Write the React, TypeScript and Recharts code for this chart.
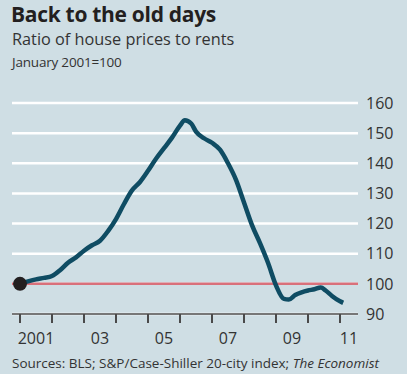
import React from "react";
import { LineChart, Line, XAxis, YAxis, CartesianGrid, ReferenceLine, ReferenceDot } from "recharts";

const years = [2001, 2001.25, 2001.5, 2001.75, 2002, 2002.25, 2002.5, 2002.75, 2003, 2003.25, 2003.5, 2003.75, 2004, 2004.25, 2004.5, 2004.75, 2005, 2005.25, 2005.5, 2005.75, 2006, 2006.15, 2006.35, 2006.5, 2006.75, 2007, 2007.25, 2007.5, 2007.75, 2008, 2008.25, 2008.5, 2008.75, 2009, 2009.25, 2009.4, 2009.6, 2009.8, 2010, 2010.2, 2010.4, 2010.55, 2010.75, 2011, 2011.1];
const ratio = [100, 100.8, 101.5, 102, 102.6, 104.5, 107, 108.8, 111, 112.8, 114.3, 117.5, 121.5, 126.5, 131, 133.8, 137.5, 141.5, 145, 148.5, 152.5, 154.3, 153.2, 150.5, 148.3, 146.8, 144.5, 140, 134.5, 127, 119.5, 113.5, 107, 99.5, 95, 94.8, 96.3, 97.2, 97.8, 98.2, 98.8, 97.8, 96, 94.2, 93.7];
const xTicks = [2001, 2002, 2003, 2004, 2005, 2006, 2007, 2008, 2009, 2010, 2011];
const xLabels: Record<number, string> = { 2001: "2001", 2003: "03", 2005: "05", 2007: "07", 2009: "09", 2011: "11" };
const yTicks = [90, 100, 110, 120, 130, 140, 150, 160];

const data = years.map((y, i) => ({ year: y, value: ratio[i] }));

const font = "'Open Sans', 'DejaVu Sans', sans-serif";
const BG = "#cfdee4";

function XTick(props: any) {
  const { x, y, payload } = props;
  const label = xLabels[payload.value] ?? "";
  const shift = payload.value === 2011 ? 9 : 16;
  return (
    <g>
      <line x1={x} x2={x} y1={y} y2={y + 9} stroke="#4a4a4a" strokeWidth={2} />
      <text x={x + shift} y={y + 19} dy="0.71em" textAnchor="middle" fill="#333" fontSize={16} fontFamily={font}>
        {label}
      </text>
    </g>
  );
}

export default function App() {
  return (
    <div style={{ position: "absolute", left: 0, top: 0, width: 407, height: 374, background: BG, fontFamily: font, color: "#231f20", overflow: "hidden" }}>
      <div style={{ position: "absolute", left: 11, top: 0, fontSize: 21, fontWeight: 700, lineHeight: "28px", letterSpacing: -0.3 }}>Back to the old days</div>
      <div style={{ position: "absolute", left: 12, top: 28, fontSize: 16.3, lineHeight: "22px", color: "#333" }}>Ratio of house prices to rents</div>
      <div style={{ position: "absolute", left: 12, top: 53, fontSize: 13.5, lineHeight: "18px", color: "#333", letterSpacing: -0.2 }}>January 2001=100</div>
      <div style={{ position: "absolute", left: 12, top: 354, fontSize: 13.5, lineHeight: "18px", color: "#333", whiteSpace: "nowrap" }}>
        Sources: BLS; S&amp;P/Case-Shiller 20-city index; <i>The Economist</i>
      </div>
      <div style={{ position: "absolute", left: 0, top: 0 }}>
        <LineChart width={407} height={374} data={data} margin={{ top: 103, right: 0, bottom: 30, left: 12 }}>
          <CartesianGrid horizontal vertical={false} stroke="#ffffff" strokeWidth={2.5} />
          <XAxis
            type="number"
            dataKey="year"
            domain={[2000.75, 2011.5625]}
            ticks={xTicks}
            allowDecimals
            axisLine={{ stroke: "#4a4a4a", strokeWidth: 1.5 }}
            tickLine={false}
            tickSize={0}
            tickMargin={0}
            tick={<XTick />}
            height={30}
            interval={0}
          />
          <YAxis
            orientation="right"
            domain={[90, 160]}
            ticks={yTicks}
            axisLine={false}
            tickLine={false}
            width={49}
            tick={{ fill: "#333", fontSize: 16, fontFamily: font }}
            interval={0}
          />
          {xTicks.map((t) => (
            <ReferenceLine
              key={t}
              segment={[{ x: t, y: 90 }, { x: t, y: 87.1 }]}
              stroke="#4a4a4a"
              strokeWidth={2}
              ifOverflow="visible"
            />
          ))}
          <ReferenceLine y={100} stroke="#d9707a" strokeWidth={2.5} />
          <Line type="monotone" dataKey="value" stroke="#0f4c63" strokeWidth={4.5} dot={false} isAnimationActive={false} />
          <ReferenceDot x={2001} y={100} r={7} fill="#231f20" stroke="none" />
        </LineChart>
      </div>
    </div>
  );
}
